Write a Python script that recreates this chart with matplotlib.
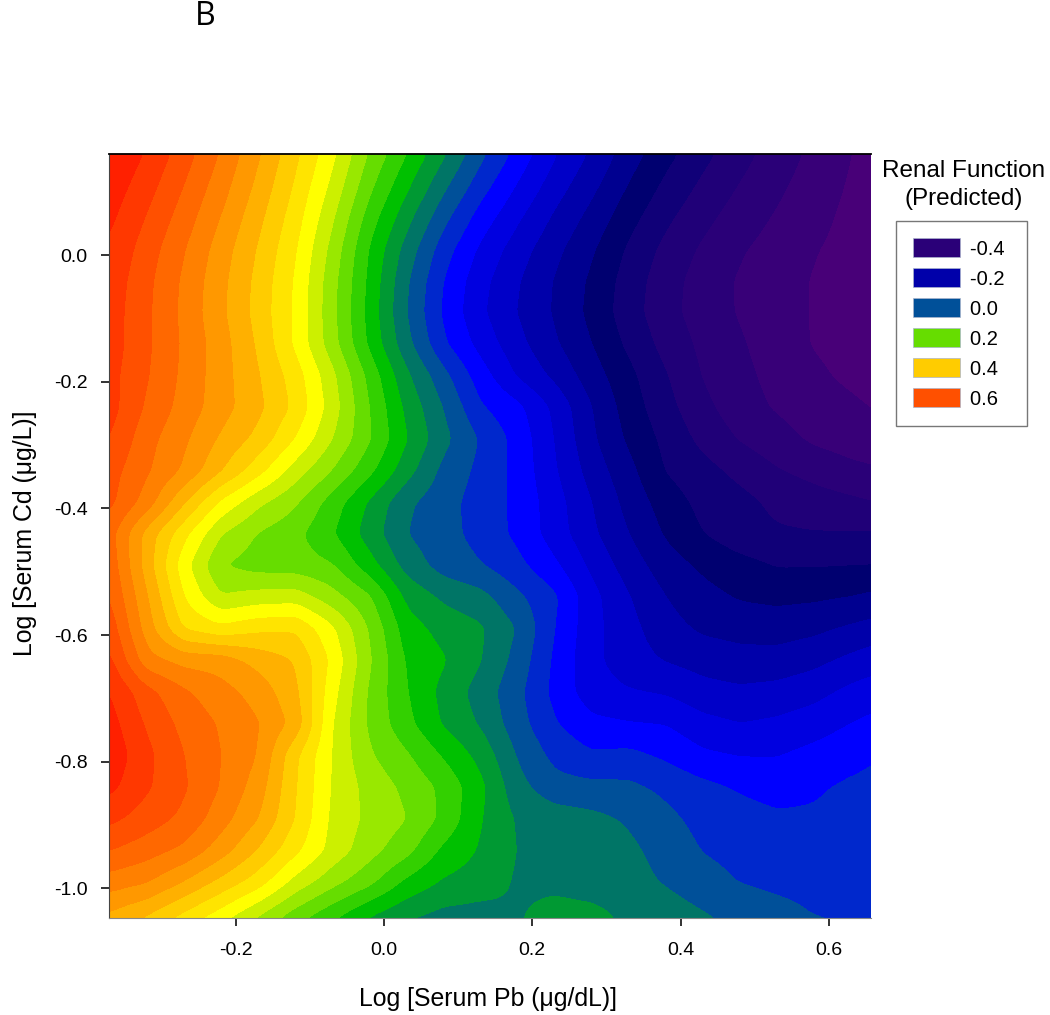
import matplotlib
matplotlib.use('Agg')
from matplotlib import pyplot as plt
from matplotlib.patches import Patch
import numpy as np

plt.rcParams['font.family'] = ['Liberation Sans', 'DejaVu Sans']
plt.rcParams['axes.unicode_minus'] = False

# Grid the surface was read on
log_pb = [-0.37, -0.32, -0.27, -0.22, -0.17, -0.12, -0.07, -0.02, 0.03, 0.08, 0.13,
          0.18, 0.23, 0.28, 0.33, 0.38, 0.43, 0.48, 0.53, 0.58, 0.63, 0.66]
log_cd = [0.16, 0.11, 0.06, 0.01, -0.04, -0.09, -0.14, -0.19, -0.24, -0.29, -0.34, -0.39, -0.44,
          -0.49, -0.54, -0.59, -0.64, -0.69, -0.74, -0.79, -0.84, -0.89, -0.94, -0.99, -1.04, -1.05]

# Predicted renal function, one row per log_cd value
renal = [
    [.72, .675, .618, .555, .485, .41, .33, .235, .16, .085, .01, -.055, -.117, -.167, -.221, -.268, -.309, -.346, -.38, -.41, -.44, -.455],
    [.704, .656, .599, .537, .469, .394, .309, .21, .128, .049, -.023, -.084, -.141, -.19, -.243, -.29, -.329, -.363, -.392, -.42, -.445, -.458],
    [.688, .637, .58, .518, .451, .378, .286, .181, .094, .012, -.058, -.114, -.167, -.214, -.266, -.312, -.349, -.38, -.405, -.429, -.45, -.461],
    [.675, .62, .562, .5, .436, .364, .266, .157, .064, -.021, -.088, -.141, -.189, -.235, -.287, -.332, -.367, -.396, -.417, -.438, -.452, -.463],
    [.665, .61, .552, .491, .427, .355, .254, .15, .046, -.041, -.107, -.157, -.203, -.248, -.299, -.344, -.378, -.405, -.424, -.443, -.455, -.465],
    [.66, .607, .549, .488, .424, .352, .251, .145, .04, -.047, -.113, -.162, -.205, -.252, -.303, -.347, -.379, -.404, -.424, -.443, -.457, -.467],
    [.66, .607, .553, .497, .433, .352, .256, .152, .053, -.034, -.095, -.148, -.195, -.24, -.29, -.335, -.37, -.396, -.42, -.443, -.456, -.466],
    [.653, .603, .55, .497, .443, .38, .29, .187, .088, .012, -.062, -.125, -.17, -.222, -.27, -.318, -.363, -.39, -.413, -.432, -.45, -.46],
    [.655, .593, .544, .497, .45, .39, .30, .2, .11, .038, -.036, -.07, -.13, -.2, -.26, -.307, -.35, -.383, -.405, -.418, -.432, -.442],
    [.64, .574, .527, .473, .427, .358, .28, .204, .122, .052, -.004, -.055, -.122, -.193, -.248, -.292, -.332, -.364, -.386, -.408, -.42, -.425],
    [.616, .565, .513, .442, .374, .30, .238, .17, .096, .028, -.011, -.053, -.116, -.178, -.229, -.283, -.307, -.332, -.358, -.374, -.39, -.396],
    [.61, .541, .443, .351, .289, .245, .181, .114, .048, .014, -.017, -.05, -.103, -.16, -.215, -.26, -.293, -.308, -.33, -.343, -.353, -.36],
    [.575, .463, .37, .28, .236, .21, .163, .10, .04, .014, -.014, -.05, -.10, -.152, -.20, -.245, -.28, -.305, -.315, -.318, -.318, -.317],
    [.585, .46, .334, .24, .222, .218, .203, .136, .064, .022, .002, -.029, -.073, -.13, -.18, -.222, -.248, -.267, -.283, -.283, -.281, -.28],
    [.60, .483, .359, .282, .296, .30, .255, .205, .11, .072, .053, .008, -.033, -.107, -.158, -.20, -.227, -.244, -.25, -.247, -.24, -.232],
    [.623, .50, .396, .37, .39, .395, .327, .236, .139, .105, .086, .037, -.04, -.107, -.147, -.185, -.207, -.215, -.218, -.21, -.194, -.185],
    [.648, .535, .505, .50, .465, .437, .35, .245, .155, .124, .082, .024, -.048, -.11, -.142, -.163, -.176, -.185, -.185, -.172, -.151, -.139],
    [.68, .613, .566, .535, .503, .45, .335, .233, .162, .107, .062, .01, -.052, -.103, -.117, -.125, -.146, -.153, -.147, -.134, -.11, -.10],
    [.695, .634, .587, .555, .523, .466, .32, .232, .172, .115, .075, .016, -.037, -.07, -.078, -.082, -.108, -.12, -.113, -.099, -.08, -.07],
    [.708, .65, .60, .56, .518, .408, .317, .245, .205, .155, .106, .036, -.012, -.035, -.03, -.048, -.073, -.082, -.082, -.068, -.053, -.044],
    [.69, .645, .605, .557, .50, .403, .315, .265, .23, .19, .13, .053, .015, .01, .008, -.01, -.03, -.045, -.055, -.045, -.034, -.03],
    [.65, .62, .59, .537, .48, .398, .31, .27, .241, .19, .122, .075, .06, .05, .035, .01, -.014, -.025, -.034, -.035, -.03, -.025],
    [.60, .577, .55, .498, .436, .37, .305, .255, .213, .15, .115, .078, .068, .062, .048, .025, -.002, -.012, -.02, -.02, -.018, -.015],
    [.54, .522, .477, .427, .378, .305, .253, .21, .15, .114, .10, .075, .072, .066, .055, .036, .015, -.002, -.01, -.012, -.012, -.01],
    [.475, .443, .395, .345, .285, .225, .175, .125, .09, .07, .066, .077, .09, .087, .074, .06, .042, .028, .013, -.002, -.007, -.006],
    [.47, .43, .38, .327, .27, .21, .16, .115, .078, .066, .064, .078, .09, .089, .074, .062, .045, .032, .018, .004, -.003, -.005],
]

# One colour per 0.04 wide band, lowest band first
band_levels = [-.48, -.44, -.40, -.36, -.32, -.28, -.24, -.20, -.16, -.12, -.08, -.04, 0.0, .04, .08,
               .12, .16, .20, .24, .28, .32, .36, .40, .44, .48, .52, .56, .60, .64, .68, .72]
band_colors = ['#480078', '#380078', '#2a0078', '#200078', '#100078', '#000070', '#000090', '#0000aa',
               '#0000c8', '#0000e0', '#0000ff', '#0028cc', '#005099', '#007566', '#009933', '#00c000',
               '#33d000', '#66dd00', '#99e800', '#ccf000', '#ffff00', '#ffe400', '#ffcc00', '#ffb000',
               '#ff9800', '#ff8000', '#ff6800', '#ff5000', '#ff3800', '#ff2000']

legend_labels = ['-0.4', '-0.2', '0.0', '0.2', '0.4', '0.6']
legend_colors = ['#2a0078', '#0000aa', '#005099', '#66dd00', '#ffcc00', '#ff5000']

x_ticks = [-0.2, 0.0, 0.2, 0.4, 0.6]
y_ticks = [0.0, -0.2, -0.4, -0.6, -0.8, -1.0]


def smooth_surface(x, y, z, n=260, win=9):
    # Rounds off the straight grid segments so the bands curve like the original
    x_f = np.linspace(x[0], x[-1], n)
    y_f = np.linspace(y[-1], y[0], n)
    z = np.array(z)[::-1]
    y_up = np.array(y)[::-1]
    rows = np.array([np.interp(x_f, x, r) for r in z])
    fine = np.array([np.interp(y_f, y_up, rows[:, j]) for j in range(n)]).T
    kernel = np.hanning(win)
    kernel = kernel / kernel.sum()
    for axis in (0, 1):
        pad = [(0, 0), (0, 0)]
        pad[axis] = (win, win)
        padded = np.pad(fine, pad, mode='edge')
        fine = np.apply_along_axis(lambda v: np.convolve(v, kernel, mode='same'), axis, padded)
        fine = fine[win:-win, :] if axis == 0 else fine[:, win:-win]
    return x_f, y_f, fine


fig = plt.figure(figsize=(10.5, 10.15), dpi=100)
ax = fig.add_axes([109/1050, 1 - 918/1015, 762/1050, 764/1015])

x_f, y_f, z_f = smooth_surface(log_pb, log_cd, renal)
cs = ax.contourf(x_f, y_f, z_f, levels=band_levels,
                 colors=[band_colors[0]] + band_colors + [band_colors[-1]], extend='both')
cs.set_edgecolor('face')
cs.set_linewidth(0.3)

ax.set_xlim(-0.371, 0.657)
ax.set_ylim(-1.047, 0.16)
ax.set_xticks(x_ticks)
ax.set_xticklabels(['%.1f' % t for t in x_ticks])
ax.set_yticks(y_ticks)
ax.set_yticklabels(['%.1f' % t for t in y_ticks])
ax.tick_params(direction='out', length=5.5, width=1.3, labelsize=14, color='#222222')
ax.tick_params(axis='x', pad=12)
ax.tick_params(axis='y', pad=10)

ax.spines['right'].set_visible(False)
ax.spines['top'].set_linewidth(1.3)
ax.spines['left'].set_color('#444444')
ax.spines['bottom'].set_color('#888888')

ax.set_xlabel('Log [Serum Pb (\u03bcg/dL)]', fontsize=17.9)
ax.xaxis.set_label_coords(0.498, -69/764)
ax.set_ylabel('Log [Serum Cd (\u03bcg/L)]', fontsize=17.9)
ax.yaxis.set_label_coords(-72/762, 0.504)

fig.text(964/1050, 1 - 185/1015, 'Renal Function\n(Predicted)', fontsize=17.5,
         ha='center', va='center', linespacing=1.35)
fig.text(205/1050, 1 - 25/1015, 'B', fontsize=23, family='Open Sans', ha='center', va='baseline')

handles = [Patch(facecolor=c, edgecolor='#aab4cc', linewidth=0.5) for c in legend_colors]
leg = fig.legend(handles, [l + ' ' for l in legend_labels], loc='upper left',
                 bbox_to_anchor=(896/1050, 1 - 221/1015),
                 borderaxespad=0, fontsize=14.5, frameon=True, fancybox=False, framealpha=1,
                 edgecolor='#777777', handlelength=2.35, handleheight=1.1, labelspacing=0.47,
                 handletextpad=0.45, borderpad=0.85)
leg.get_frame().set_linewidth(1.0)

fig.savefig('out.png', dpi=100)
